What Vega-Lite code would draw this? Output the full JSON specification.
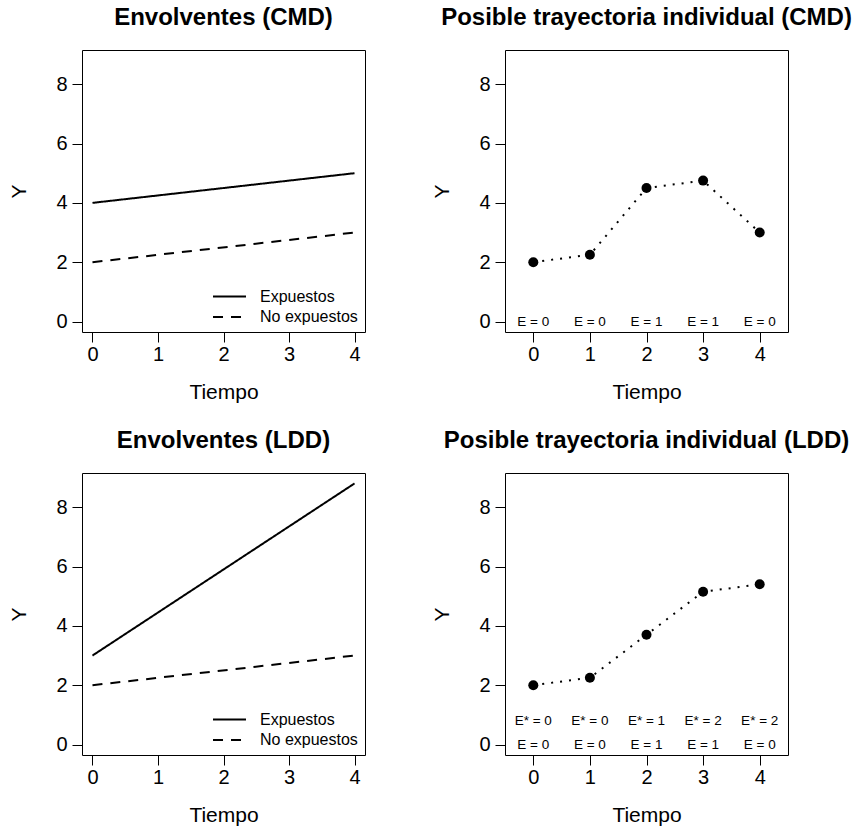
{
  "$schema": "https://vega.github.io/schema/vega-lite/v6.json",
  "padding": {"left": 8, "top": 5, "right": 0, "bottom": 0},
  "background": "white",
  "config": {
    "font": "Liberation Sans",
    "view": {"stroke": "black", "strokeWidth": 1, "fill": "white"},
    "axis": {
      "domain": false, "grid": false, "ticks": true, "tickColor": "black", "tickSize": 10, "tickWidth": 1,
      "labelFontSize": 20, "labelColor": "black", "labelFont": "Liberation Sans",
      "titleFontSize": 21, "titleFontWeight": "normal", "titleColor": "black", "titleFont": "Liberation Sans",
      "labelFlush": false, "labelOverlap": false
    },
    "axisX": {"labelPadding": 2, "titlePadding": 17, "labelAngle": 0},
    "axisY": {"labelPadding": 5, "titlePadding": 26, "labelAngle": 0},
    "title": {"fontSize": 24, "fontWeight": "bold", "color": "black", "font": "Liberation Sans", "anchor": "middle", "offset": 20},
    "legend": {"padding": 0}
  },
  "datasets": {
    "env_cmd": [
      {"tiempo": 0, "y": 4, "grupo": "Expuestos"},
      {"tiempo": 4, "y": 5, "grupo": "Expuestos"},
      {"tiempo": 0, "y": 2, "grupo": "No expuestos"},
      {"tiempo": 4, "y": 3, "grupo": "No expuestos"}
    ],
    "env_ldd": [
      {"tiempo": 0, "y": 3, "grupo": "Expuestos"},
      {"tiempo": 4, "y": 8.8, "grupo": "Expuestos"},
      {"tiempo": 0, "y": 2, "grupo": "No expuestos"},
      {"tiempo": 4, "y": 3, "grupo": "No expuestos"}
    ],
    "traj_cmd": [
      {"tiempo": 0, "y": 2, "e": "E = 0"},
      {"tiempo": 1, "y": 2.25, "e": "E = 0"},
      {"tiempo": 2, "y": 4.5, "e": "E = 1"},
      {"tiempo": 3, "y": 4.75, "e": "E = 1"},
      {"tiempo": 4, "y": 3, "e": "E = 0"}
    ],
    "traj_ldd": [
      {"tiempo": 0, "y": 2, "e": "E = 0", "es": "E* = 0"},
      {"tiempo": 1, "y": 2.25, "e": "E = 0", "es": "E* = 0"},
      {"tiempo": 2, "y": 3.7, "e": "E = 1", "es": "E* = 1"},
      {"tiempo": 3, "y": 5.15, "e": "E = 1", "es": "E* = 2"},
      {"tiempo": 4, "y": 5.4, "e": "E = 0", "es": "E* = 2"}
    ]
  },
  "bounds": "flush",
  "columns": 2,
  "spacing": {"row": 141, "column": 140},
  "resolve": {"scale": {"strokeDash": "independent"}, "legend": {"strokeDash": "independent"}},
  "concat": [
    {
      "title": "Envolventes (CMD)",
      "width": 283, "height": 282,
      "data": {"name": "env_cmd"},
      "mark": {"type": "line", "strokeWidth": 2, "color": "black", "clip": true},
      "encoding": {
        "x": {"field": "tiempo", "type": "quantitative", "title": "Tiempo", "scale": {"domain": [-0.16, 4.16], "nice": false, "zero": false}, "axis": {"values": [0, 1, 2, 3, 4]}},
        "y": {"field": "y", "type": "quantitative", "title": "Y", "scale": {"domain": [-0.352, 9.152], "nice": false, "zero": false}, "axis": {"values": [0, 2, 4, 6, 8]}},
        "strokeDash": {"field": "grupo", "type": "nominal", "scale": {"domain": ["Expuestos", "No expuestos"], "range": [[1, 0], [10, 8]]},
          "legend": {"orient": "none", "legendX": 138, "legendY": 237, "title": null, "symbolType": "M-2,0H2", "symbolSize": 272, "symbolStrokeWidth": 2, "symbolStrokeColor": "black", "labelFontSize": 16, "labelColor": "black", "labelOffset": 21, "rowPadding": 2.5}},
        "detail": {"field": "grupo"}
      }
    },
    {
      "title": "Posible trayectoria individual (CMD)",
      "width": 283, "height": 282,
      "data": {"name": "traj_cmd"},
      "encoding": {
        "x": {"field": "tiempo", "type": "quantitative", "title": "Tiempo", "scale": {"domain": [-0.5, 4.5], "nice": false, "zero": false}, "axis": {"values": [0, 1, 2, 3, 4]}},
        "y": {"field": "y", "type": "quantitative", "title": "Y", "scale": {"domain": [-0.352, 9.152], "nice": false, "zero": false}, "axis": {"values": [0, 2, 4, 6, 8]}}
      },
      "layer": [
        {"mark": {"type": "line", "strokeWidth": 2, "strokeDash": [2, 7], "color": "black"}},
        {"mark": {"type": "point", "filled": true, "size": 100, "color": "black", "opacity": 1}},
        {"mark": {"type": "text", "fontSize": 13.5, "color": "black", "align": "center", "baseline": "middle"},
         "encoding": {"y": {"datum": 0}, "text": {"field": "e"}}}
      ]
    },
    {
      "title": "Envolventes (LDD)",
      "width": 283, "height": 282,
      "data": {"name": "env_ldd"},
      "mark": {"type": "line", "strokeWidth": 2, "color": "black", "clip": true},
      "encoding": {
        "x": {"field": "tiempo", "type": "quantitative", "title": "Tiempo", "scale": {"domain": [-0.16, 4.16], "nice": false, "zero": false}, "axis": {"values": [0, 1, 2, 3, 4]}},
        "y": {"field": "y", "type": "quantitative", "title": "Y", "scale": {"domain": [-0.352, 9.152], "nice": false, "zero": false}, "axis": {"values": [0, 2, 4, 6, 8]}},
        "strokeDash": {"field": "grupo", "type": "nominal", "scale": {"domain": ["Expuestos", "No expuestos"], "range": [[1, 0], [10, 8]]},
          "legend": {"orient": "none", "legendX": 138, "legendY": 237, "title": null, "symbolType": "M-2,0H2", "symbolSize": 272, "symbolStrokeWidth": 2, "symbolStrokeColor": "black", "labelFontSize": 16, "labelColor": "black", "labelOffset": 21, "rowPadding": 2.5}},
        "detail": {"field": "grupo"}
      }
    },
    {
      "title": "Posible trayectoria individual (LDD)",
      "width": 283, "height": 282,
      "data": {"name": "traj_ldd"},
      "encoding": {
        "x": {"field": "tiempo", "type": "quantitative", "title": "Tiempo", "scale": {"domain": [-0.5, 4.5], "nice": false, "zero": false}, "axis": {"values": [0, 1, 2, 3, 4]}},
        "y": {"field": "y", "type": "quantitative", "title": "Y", "scale": {"domain": [-0.352, 9.152], "nice": false, "zero": false}, "axis": {"values": [0, 2, 4, 6, 8]}}
      },
      "layer": [
        {"mark": {"type": "line", "strokeWidth": 2, "strokeDash": [2, 7], "color": "black"}},
        {"mark": {"type": "point", "filled": true, "size": 100, "color": "black", "opacity": 1}},
        {"mark": {"type": "text", "fontSize": 13.5, "color": "black", "align": "center", "baseline": "middle"},
         "encoding": {"y": {"datum": 0}, "text": {"field": "e"}}},
        {"mark": {"type": "text", "fontSize": 13.5, "color": "black", "align": "center", "baseline": "middle"},
         "encoding": {"y": {"datum": 0.8}, "text": {"field": "es"}}}
      ]
    }
  ]
}
